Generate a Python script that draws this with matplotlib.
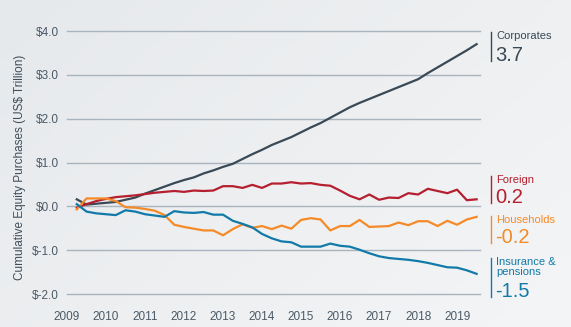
import numpy as np
import matplotlib
matplotlib.use("Agg")
import matplotlib.pyplot as plt
from matplotlib.colors import LinearSegmentedColormap

plt.rcParams['font.family'] = ['Liberation Sans', 'DejaVu Sans']

# quarterly observations, 2009Q1 .. 2019Q2
quarters = 2009.25 + 0.25 * np.arange(42)

corporates = [0.16, 0.04, 0.06, 0.08, 0.10, 0.15, 0.20, 0.29, 0.37, 0.45,
              0.53, 0.60, 0.66, 0.75, 0.82, 0.90, 0.97, 1.08, 1.19, 1.29,
              1.40, 1.49, 1.58, 1.69, 1.80, 1.90, 2.02, 2.14, 2.26, 2.36,
              2.45, 2.54, 2.63, 2.72, 2.81, 2.90, 3.04, 3.17, 3.30, 3.43,
              3.56, 3.70]
foreign = [-0.03, 0.05, 0.12, 0.17, 0.21, 0.23, 0.25, 0.28, 0.31, 0.33,
           0.35, 0.33, 0.36, 0.35, 0.36, 0.46, 0.46, 0.42, 0.49, 0.42,
           0.52, 0.52, 0.55, 0.52, 0.53, 0.49, 0.47, 0.36, 0.24, 0.16,
           0.27, 0.15, 0.20, 0.19, 0.30, 0.27, 0.40, 0.35, 0.30, 0.38,
           0.14, 0.16]
households = [-0.07, 0.18, 0.18, 0.18, 0.12, -0.02, -0.03, -0.06, -0.10, -0.20,
              -0.42, -0.47, -0.51, -0.55, -0.55, -0.66, -0.52, -0.41, -0.49, -0.45,
              -0.52, -0.44, -0.51, -0.31, -0.27, -0.30, -0.55, -0.45, -0.45, -0.31,
              -0.47, -0.46, -0.45, -0.37, -0.43, -0.34, -0.34, -0.45, -0.33, -0.42,
              -0.30, -0.24]
insurance = [0.05, -0.12, -0.16, -0.18, -0.20, -0.09, -0.12, -0.18, -0.21, -0.24,
             -0.11, -0.14, -0.15, -0.13, -0.19, -0.19, -0.33, -0.40, -0.48, -0.63,
             -0.73, -0.80, -0.82, -0.92, -0.92, -0.92, -0.85, -0.90, -0.92, -0.99,
             -1.07, -1.14, -1.18, -1.20, -1.22, -1.25, -1.29, -1.34, -1.39, -1.40,
             -1.46, -1.54]

years = list(range(2009, 2020))
y_ticks = [-2.0, -1.0, 0.0, 1.0, 2.0, 3.0, 4.0]

series = [
    ("Corporates", corporates, "#394955", 32, 61),
    ("Foreign", foreign, "#b51f2f", 176, 203),
    ("Households", households, "#f58a28", 216, 243),
    ("Insurance &\npensions", insurance, "#127aa8", 258, 297),
]

W, H = 571, 327
fig = plt.figure(figsize=(W / 100, H / 100), dpi=100)

# soft grey background, darker top-left
bg = fig.add_axes([0, 0, 1, 1], zorder=-10)
gx, gy = np.meshgrid(np.linspace(0, 1, 200), np.linspace(0, 1, 120))
grad = 0.6 * gx + 0.4 * gy
cmap = LinearSegmentedColormap.from_list("bg", ["#e6e9ec", "#f4f5f6"])
bg.imshow(grad, cmap=cmap, aspect="auto", extent=[0, 1, 0, 1], origin="upper")
bg.axis("off")


def px(x, y):
    return x / W, 1 - y / H


ax = fig.add_axes([67 / W, 1 - 294 / H, 413 / W, 263 / H])
ax.set_facecolor("none")
ax.set_xlim(2009.05, 2019.587)
ax.set_ylim(-2.0, 4.0)
for s in ax.spines.values():
    s.set_visible(False)

for v in y_ticks:
    ax.axhline(v, color="#a8b4be", lw=1.0, zorder=1, clip_on=False)

for name, vals, color, top, bottom in series:
    ax.plot(quarters, vals, color=color, lw=1.6, zorder=3)

ax.set_yticks(y_ticks)
ax.set_yticklabels(["$%.1f" % v if v >= 0 else "$-%.1f" % abs(v) for v in y_ticks])
ax.set_xticks(years)
ax.set_xticklabels([str(y) for y in years])
ax.tick_params(axis="both", length=0, labelsize=8.5, labelcolor="#4b5a67")
ax.tick_params(axis="x", pad=12)
ax.tick_params(axis="y", pad=6)

fig.text(*px(20, 167), "Cumulative Equity Purchases (US$ Trillion)", rotation=90,
         ha="center", va="center", fontsize=8.5, color="#3d4d5a")

# end-of-series callouts
for name, vals, color, top, bottom in series:
    x0, y0 = px(491, top)
    x1, y1 = px(491, bottom)
    fig.add_artist(plt.Line2D([x0, x1], [y0, y1], color=color, lw=1.0))
    fig.text(*px(496, top - 1), name, ha="left", va="top", fontsize=8,
             color=color, linespacing=1.05)
    fig.text(*px(495, bottom), "%.1f" % vals[-1], ha="left", va="baseline",
             fontsize=14.5, color=color)

fig.savefig("out.png", dpi=100)
